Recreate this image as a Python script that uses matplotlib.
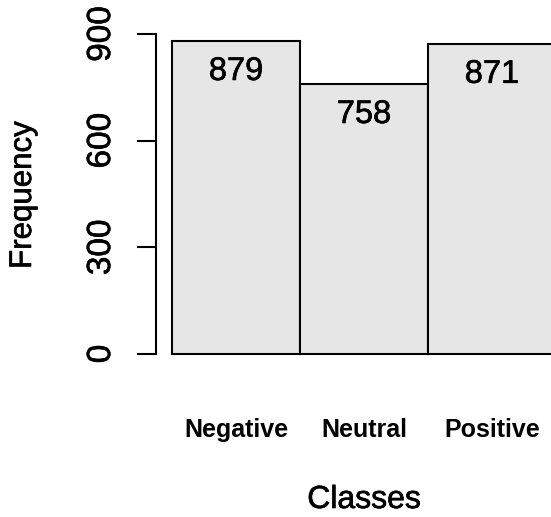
import matplotlib
matplotlib.use('Agg')
import matplotlib.pyplot as plt
import matplotlib.patheffects as pe
import numpy as np

plt.rcParams['font.family'] = ['Liberation Sans', 'DejaVu Sans']

classes = ['Negative', 'Neutral', 'Positive']
counts = [879, 758, 871]
yticks = [0, 300, 600, 900]

W, H = 551, 517
PX = 0.72  # points per pixel at dpi 100
heavy = [pe.withStroke(linewidth=0.45, foreground='black')]
fig = plt.figure(figsize=(W / 100, H / 100), dpi=100)
# axes: left spine at x=156px, y from 354px (0) up to 34px (900)
ax = fig.add_axes([156 / W, 1 - 354 / H, (W - 156) / W, 320 / H])
upp = 900 / 320  # data units per pixel

# x in pixel-like units: bars 128 px wide starting 16 px right of the axis
width = 128
lefts = 16 + width * np.arange(len(classes))
ax.bar(lefts, counts, width=width, align='edge', color='#e6e6e6',
       edgecolor='black', linewidth=1.5, clip_on=False)
for x, v in zip(lefts, counts):
    ax.text(x + width / 2, v - 30 * upp, str(v), ha='center', va='center',
            fontsize=23.5, path_effects=heavy)

ax.set_xlim(0, W - 156)
ax.set_ylim(0, 900)
for s in ['top', 'right', 'bottom']:
    ax.spines[s].set_visible(False)
ax.spines['left'].set_linewidth(1.5)
ax.set_xticks([])
ax.set_yticks(yticks)
ax.set_yticklabels([str(t) for t in yticks], rotation=90, va='center', fontsize=24)
for t in ax.get_yticklabels():
    t.set_path_effects(heavy)
ax.tick_params(axis='y', length=19 * PX, width=1.5, pad=20 * PX)

# category labels below the bars
for x, c in zip(lefts, classes):
    ax.text(x + width / 2, -(430 - 354) * upp, c, ha='center', va='center',
            fontsize=18, fontweight='bold')

fig.text(364 / W, 1 - 500 / H, 'Classes', ha='center', va='center', fontsize=23,
         path_effects=heavy)
fig.text(23 / W, 1 - 195 / H, 'Frequency', ha='center', va='center',
         rotation=90, fontsize=22.5, path_effects=heavy)

fig.savefig('out.png', dpi=100)
plt.close(fig)
